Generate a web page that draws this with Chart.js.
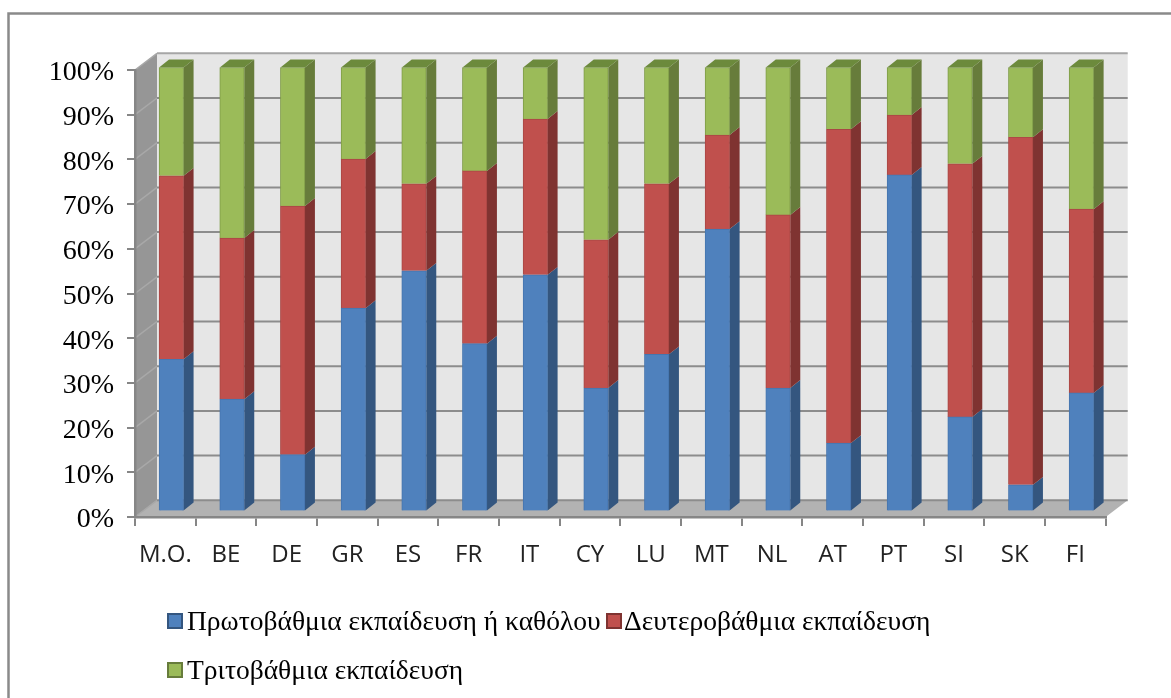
<!DOCTYPE html>
<html>
<head>
<meta charset="utf-8">
<style>
  html,body{margin:0;padding:0;background:#fff;}
  canvas{display:block;filter:blur(0.5px);}
</style>
</head>
<body>
<canvas id="grafico" width="1171" height="698"></canvas>
<script src="https://cdn.jsdelivr.net/npm/chart.js@4/dist/chart.umd.min.js"></script>
<script>
const paises = ["M.O.","BE","DE","GR","ES","FR","IT","CY","LU","MT","NL","AT","PT","SI","SK","FI"];
const etiquetas = ["Πρωτοβάθμια εκπαίδευση ή καθόλου","Δευτεροβάθμια εκπαίδευση","Τριτοβάθμια εκπαίδευση"];
const valores_primaria = [34.3,25.3,12.8,45.8,54.2,37.8,53.3,27.8,35.4,63.6,27.8,15.4,75.8,21.3,6.0,26.7];
const valores_secundaria = [41.3,36.3,56.0,33.6,19.6,38.9,35.1,33.4,38.4,21.2,39.0,70.7,13.5,57.0,78.3,41.4];
const valores_terciaria = [24.4,38.4,31.2,20.6,26.2,23.3,11.6,38.8,26.2,15.2,33.2,13.9,10.7,21.7,15.7,31.9];

const colores = ['#4F81BD','#C0504D','#9BBB59'];
const bordes = ['#4675AE','#A94744','#7F9C48'];
const lados = ['#34567F','#7F3331','#677C3B'];
const colorTapa = '#6C8A3C';

// profundidad de la pared y de las barras (falso 3D)
const fondoX = 22, fondoY = -16.7;
const barraX = 10, barraY = -8;
const escalaBarra = 444/447;

const fondo3d = {
    id:'fondo3d',
    beforeDraw(chart){
        const c = chart.ctx, a = chart.chartArea, y = chart.scales.y;
        c.save();
        // marco
        c.strokeStyle = '#8A8A8A';
        c.lineWidth = 2.5;
        c.beginPath();
        c.moveTo(8.5,698); c.lineTo(8.5,13.5); c.lineTo(1171,13.5);
        c.stroke();
        // pared izquierda
        c.fillStyle = '#969696';
        c.beginPath();
        c.moveTo(a.left,a.top);
        c.lineTo(a.left+fondoX,a.top+fondoY);
        c.lineTo(a.left+fondoX,a.bottom+fondoY);
        c.lineTo(a.left,a.bottom);
        c.closePath(); c.fill();
        // pared de atras
        c.fillStyle = '#E6E6E6';
        c.fillRect(a.left+fondoX,a.top+fondoY,a.width,a.height);
        // suelo
        c.fillStyle = '#B2B2B2';
        c.beginPath();
        c.moveTo(a.left,a.bottom);
        c.lineTo(a.left+fondoX,a.bottom+fondoY);
        c.lineTo(a.right+fondoX,a.bottom+fondoY);
        c.lineTo(a.right,a.bottom);
        c.closePath(); c.fill();
        // lineas de la cuadricula
        y.ticks.forEach(t=>{
            const py = y.getPixelForValue(t.value);
            c.lineWidth = 1.5;
            c.strokeStyle = '#A8A8A8';
            c.beginPath();
            c.moveTo(a.left,py); c.lineTo(a.left+fondoX,py+fondoY);
            c.stroke();
            c.lineWidth = 2;
            c.strokeStyle = t.value==100 ? '#A6A6A6' : '#8C8C8C';
            c.beginPath();
            c.moveTo(a.left+fondoX,py+fondoY); c.lineTo(a.right+fondoX,py+fondoY);
            c.stroke();
        });
        c.restore();
    },
    beforeDatasetsDraw(chart){
        const c = chart.ctx, a = chart.chartArea;
        c.save();
        // las barras van a media profundidad
        c.translate(6,67.5-a.top*escalaBarra);
        c.scale(1,escalaBarra);
        chart.data.datasets.forEach((d,i)=>{
            chart.getDatasetMeta(i).data.forEach(b=>{
                const der = b.x+b.width/2;
                const izq = b.x-b.width/2;
                c.fillStyle = lados[i];
                c.beginPath();
                c.moveTo(der,b.y);
                c.lineTo(der+barraX,b.y+barraY);
                c.lineTo(der+barraX,b.base+barraY);
                c.lineTo(der,b.base);
                c.closePath(); c.fill();
                if(i==chart.data.datasets.length-1){
                    c.fillStyle = colorTapa;
                    c.beginPath();
                    c.moveTo(izq,b.y);
                    c.lineTo(izq+barraX,b.y+barraY);
                    c.lineTo(der+barraX,b.y+barraY);
                    c.lineTo(der,b.y);
                    c.closePath(); c.fill();
                }
            });
        });
    },
    afterDatasetsDraw(chart){
        chart.ctx.restore();
    },
    afterDraw(chart){
        // leyenda
        const c = chart.ctx;
        const pos = [[167,613],[606,613],[167,662]];
        c.save();
        c.font = '27.5px "Liberation Serif"';
        c.textBaseline = 'alphabetic';
        chart.data.datasets.forEach((d,i)=>{
            c.fillStyle = colores[i];
            c.strokeStyle = lados[i];
            c.lineWidth = 2;
            c.fillRect(pos[i][0]+1,pos[i][1]+1,14,14);
            c.strokeRect(pos[i][0]+1,pos[i][1]+1,14,14);
            c.fillStyle = '#000';
            c.fillText(d.label,pos[i][0]+(i==1?18:20),pos[i][1]+17);
        });
        c.restore();
    }
};

const grafico = new Chart(document.getElementById("grafico"),{
    type:'bar',
    data:{
        labels:paises,
        datasets:[
            {label:etiquetas[0],data:valores_primaria,backgroundColor:colores[0],borderColor:bordes[0],borderWidth:1,barThickness:24.5,clip:false},
            {label:etiquetas[1],data:valores_secundaria,backgroundColor:colores[1],borderColor:bordes[1],borderWidth:1,barThickness:24.5,clip:false},
            {label:etiquetas[2],data:valores_terciaria,backgroundColor:colores[2],borderColor:bordes[2],borderWidth:1,barThickness:24.5,clip:false}
        ]
    },
    options:{
        responsive:false,
        animation:false,
        layout:{padding:{top:70,right:65.3,left:0,bottom:0}},
        plugins:{legend:{display:false},tooltip:{enabled:false}},
        scales:{
            x:{
                stacked:true,
                afterFit(s){s.height=698-517;},
                grid:{drawOnChartArea:false,color:'#868686',lineWidth:2,tickLength:9},
                border:{color:'#868686',width:2.5},
                ticks:{font:{family:'"Open Sans"',size:24},color:'#222',padding:15,maxRotation:0,autoSkip:false}
            },
            y:{
                stacked:true,
                min:0,
                max:100,
                afterFit(s){s.width=135;},
                grid:{drawOnChartArea:false,color:'#868686',lineWidth:2,tickLength:8},
                border:{color:'#868686',width:2.5},
                ticks:{stepSize:10,callback:v=>v+'%',font:{family:'"Liberation Serif"',size:28},color:'#000',padding:13,labelOffset:3}
            }
        }
    },
    plugins:[fondo3d]
});
</script>
</body>
</html>
